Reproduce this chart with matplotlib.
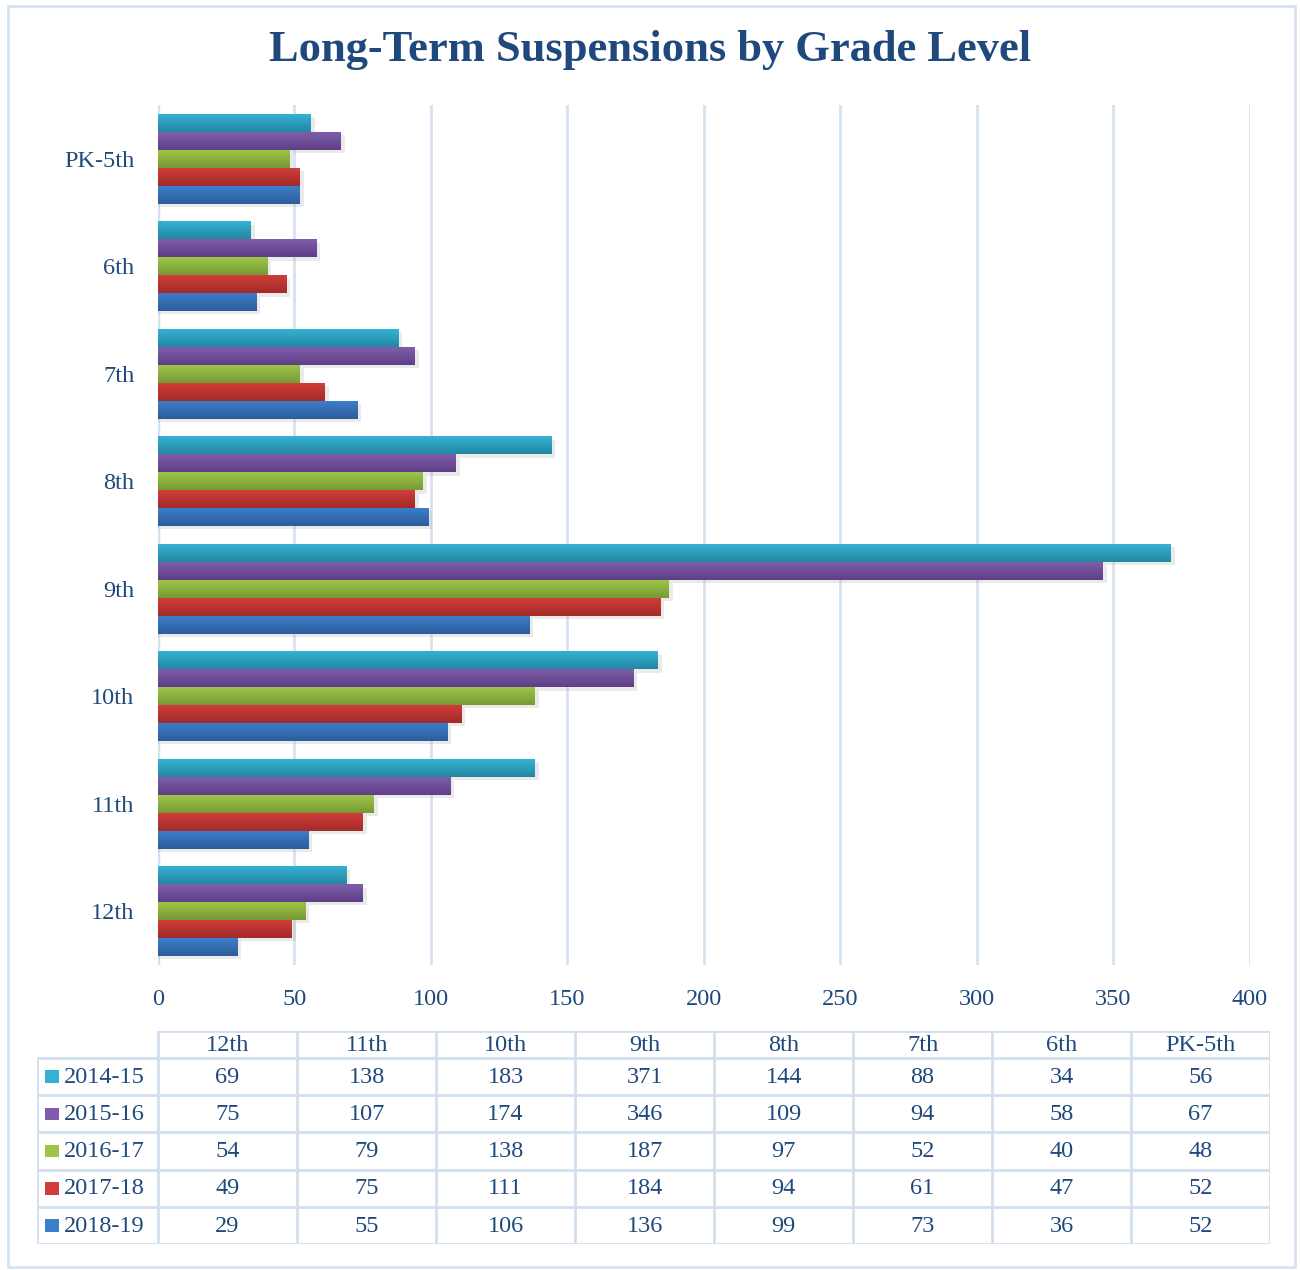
import numpy as np
import matplotlib.pyplot as plt
from matplotlib.colors import LinearSegmentedColormap
from matplotlib.patches import Rectangle

# data (table gives exact values)
grades = ['PK-5th', '6th', '7th', '8th', '9th', '10th', '11th', '12th']
years = ['2014-15', '2015-16', '2016-17', '2017-18', '2018-19']
v1415 = [56, 34, 88, 144, 371, 183, 138, 69]
v1516 = [67, 58, 94, 109, 346, 174, 107, 75]
v1617 = [48, 40, 52, 97, 187, 138, 79, 54]
v1718 = [52, 47, 61, 94, 184, 111, 75, 49]
v1819 = [52, 36, 73, 99, 136, 106, 55, 29]
series = [v1415, v1516, v1617, v1718, v1819]

# light (top) / dark (bottom) shade of each series
tops = ['#35B2D3', '#7F5DAB', '#9DC548', '#D03D3A', '#3D7ECA']
bots = ['#2387A2', '#5E3F86', '#779A34', '#A22B28', '#2D5C9B']
txt = '#1F497D'
grid = '#D6E2F0'
fs = 17.5

plt.rcParams['font.family'] = ['Liberation Serif', 'DejaVu Serif']

fig = plt.figure(figsize=(13, 12.7), dpi=100)
fig.patches.append(Rectangle((0.006, 0.002), 0.99, 0.993, transform=fig.transFigure,
                             fill=False, edgecolor=grid, lw=2))
fig.text(0.5, 0.961, 'Long-Term Suspensions by Grade Level', ha='center', va='center',
         fontsize=32, fontweight='bold', color=txt)

ax = fig.add_axes([0.1215, 0.2402, 0.84, 0.677])
h = 0.167
ypos = np.arange(len(grades))
for k, vals in enumerate(series):
    cmap = LinearSegmentedColormap.from_list('g%d' % k, [tops[k], bots[k]])
    for i, v in enumerate(vals):
        yc = i + (k - 2) * h
        # soft shadow
        ax.barh(yc + 0.03, v + 1.5, height=h, color='#999999', alpha=0.2, zorder=1, lw=0)
        ax.imshow(np.linspace(0, 1, 50).reshape(-1, 1), extent=(0, v, yc + h / 2, yc - h / 2),
                  cmap=cmap, aspect='auto', zorder=2, interpolation='bilinear')

ax.set_xlim(0, 400)
ax.set_ylim(len(grades) - 0.5, -0.5)
ax.set_xticks(np.arange(0, 401, 50))
ax.set_yticks(ypos)
ax.set_yticklabels(grades)
ax.xaxis.grid(True, color=grid, lw=2)
ax.set_axisbelow(True)
for s in ax.spines.values():
    s.set_visible(False)
ax.axvline(0, color=grid, lw=2.5, zorder=0)
ax.tick_params(axis='both', length=0, labelsize=fs, labelcolor=txt)
ax.tick_params(axis='x', pad=17)
ax.tick_params(axis='y', pad=17)

# data table under the chart, columns reversed (12th first)
cols = grades[::-1]
tax = fig.add_axes([0.0285, 0.0205, 0.9485, 0.1677])
lw0 = 121 / 139.0
hh = 27 / 37.0
tax.set_xlim(-lw0, 8)
tax.set_ylim(5 + hh, 0)
tax.axis('off')
lc = '#D3DFEE'
for j, c in enumerate(cols):
    tax.text(j + 0.5, hh / 2 + 0.03, c, ha='center', va='center', fontsize=fs, color=txt)
for j in range(9):
    tax.plot([j, j], [0, 5 + hh], color=lc, lw=2)
tax.plot([-lw0, -lw0], [hh, 5 + hh], color=lc, lw=2)
tax.plot([0, 8], [0, 0], color=lc, lw=2)
for r in range(6):
    tax.plot([-lw0, 8], [hh + r, hh + r], color=lc, lw=2)
for r, (yr, vals) in enumerate(zip(years, series)):
    yc = hh + r + 0.5
    tax.add_patch(Rectangle((-lw0 + 0.06, yc - 0.17), 0.1, 0.34,
                            facecolor=tops[r], edgecolor='none'))
    tax.text(-lw0 + 0.19, yc + 0.02, yr, ha='left', va='center', fontsize=fs, color=txt)
    for j, v in enumerate(vals[::-1]):
        tax.text(j + 0.5, yc + 0.02, str(v), ha='center', va='center', fontsize=fs, color=txt)

fig.savefig('out.png', dpi=100)
